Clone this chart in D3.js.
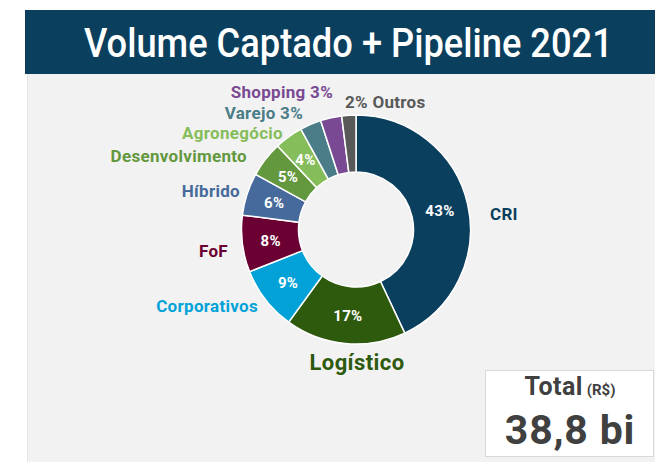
<!DOCTYPE html>
<html>
<head>
<meta charset="utf-8">
<title>Volume Captado + Pipeline 2021</title>
<script src="https://cdn.jsdelivr.net/npm/d3@7"></script>
<style>
  body { margin: 0; background: #fff; }
  svg { display: block; font-family: Roboto, "DejaVu Sans", sans-serif; font-weight: bold; }
</style>
</head>
<body>
<div id="chart"></div>
<script>
// data
var categories = ["CRI", "Logístico", "Corporativos", "FoF", "Híbrido",
                  "Desenvolvimento", "Agronegócio", "Varejo", "Shopping", "Outros"];
var shares = [43, 17, 9, 8, 6, 5, 4, 3, 3, 2];
var colors = ["#0b3f5e", "#2e5a0e", "#02a2d8", "#6b0033", "#456a9b",
              "#63983e", "#86bd5b", "#4a7d88", "#794a93", "#595959"];
var titleText = "Volume Captado + Pipeline 2021";
var totalLabel = "Total";
var totalUnit = "(R$)";
var totalValue = "38,8 bi";

// outer label placement (baseline), relative to the donut centre
var labelLayout = {
  "CRI":             { dx: 134,  dy: -9.5,   anchor: "start", size: 17 },
  "Logístico":       { dx: 1,    dy: 140.5,  anchor: "middle", size: 22 },
  "Corporativos":    { dx: -98,  dy: 82.5,   anchor: "end", size: 17 },
  "FoF":             { dx: -128, dy: 27.5,   anchor: "end", size: 17 },
  "Híbrido":         { dx: -116, dy: -32.5,  anchor: "end", size: 17 },
  "Desenvolvimento": { dx: -109, dy: -67.5,  anchor: "end", size: 17 },
  "Agronegócio":     { dx: -73,  dy: -90.5,  anchor: "end", size: 17 },
  "Varejo":          { dx: -53,  dy: -110.5, anchor: "end", size: 17, pct: "after" },
  "Shopping":        { dx: -23,  dy: -131.5, anchor: "end", size: 17, pct: "after" },
  "Outros":          { dx: -11,  dy: -121.5, anchor: "start", size: 17, pct: "before" }
};

var W = 655, H = 462;
var cx = 356, cy = 229.5, rOuter = 114.5, rInner = 57.5;

var svg = d3.select("#chart").append("svg")
    .attr("width", W).attr("height", H);

// panel + title bar
svg.append("rect").attr("x", 27).attr("y", 74).attr("width", W - 27).attr("height", H - 74)
    .attr("fill", "#f2f2f2");
svg.append("line").attr("x1", 27.5).attr("x2", 27.5).attr("y1", 74).attr("y2", H)
    .attr("stroke", "#e4e4e4");
svg.append("rect").attr("x", 25).attr("y", 10).attr("width", W - 25).attr("height", 64)
    .attr("fill", "#0b3f5e");

// title is squeezed horizontally to mimic the condensed face of the original
var titleG = svg.append("g");
var title = titleG.append("text")
    .attr("fill", "#fff").style("font-size", "40px").style("font-weight", 500)
    .text(titleText);
var tw = title.node().getComputedTextLength();
var sx = Math.min(1, 529 / tw);
titleG.attr("transform", "translate(84,57) scale(" + sx + ",1)");

var data = categories.map(function(c, i) {
  return { name: c, value: shares[i], color: colors[i] };
});

var pie = d3.pie().value(function(d) { return d.value; }).sort(null);
var arc = d3.arc().innerRadius(rInner).outerRadius(rOuter);
var arcs = pie(data);

var g = svg.append("g").attr("transform", "translate(" + cx + "," + cy + ")");

g.selectAll("path.slice")
  .data(arcs)
  .enter().append("path")
    .attr("class", "slice")
    .attr("d", arc)
    .attr("fill", function(d) { return d.data.color; })
    .attr("stroke", "#fff")
    .attr("stroke-width", 1.5);

// inside percentage labels (only for slices large enough)
g.selectAll("text.pct")
  .data(arcs.filter(function(d) { return !labelLayout[d.data.name].pct; }))
  .enter().append("text")
    .attr("class", "pct")
    .attr("transform", function(d) { return "translate(" + arc.centroid(d) + ")"; })
    .attr("text-anchor", "middle")
    .attr("dy", "0.36em")
    .attr("fill", "#fff")
    .style("font-size", "15px")
    .style("letter-spacing", "0.3px")
    .text(function(d) { return d.data.value + "%"; });

// outer category labels
g.selectAll("text.cat")
  .data(arcs)
  .enter().append("text")
    .attr("class", "cat")
    .attr("x", function(d) { return labelLayout[d.data.name].dx; })
    .attr("y", function(d) { return labelLayout[d.data.name].dy; })
    .attr("text-anchor", function(d) { return labelLayout[d.data.name].anchor; })
    .attr("fill", function(d) { return d.data.color; })
    .style("font-size", function(d) { return labelLayout[d.data.name].size + "px"; })
    .style("letter-spacing", function(d) { return d.data.name === "Logístico" ? "0.4px" : "0.3px"; })
    .text(function(d) {
      var l = labelLayout[d.data.name];
      if (l.pct === "after") return d.data.name + " " + d.data.value + "%";
      if (l.pct === "before") return d.data.value + "% " + d.data.name;
      return d.data.name;
    });

// total box
var box = svg.append("g");
box.append("rect").attr("x", 485.5).attr("y", 370.5).attr("width", 168).attr("height", 86)
    .attr("fill", "#fff").attr("stroke", "#d9d9d9");
var t1 = box.append("text").attr("x", 570).attr("y", 395)
    .attr("text-anchor", "middle").attr("fill", "#404040");
t1.append("tspan").style("font-size", "25px").style("letter-spacing", "0.5px").text(totalLabel);
t1.append("tspan").style("font-size", "15px").text(" " + totalUnit);
box.append("text").attr("x", 570).attr("y", 444)
    .attr("text-anchor", "middle").attr("fill", "#404040")
    .style("font-size", "41px").style("letter-spacing", "0.8px").text(totalValue);
</script>
</body>
</html>
